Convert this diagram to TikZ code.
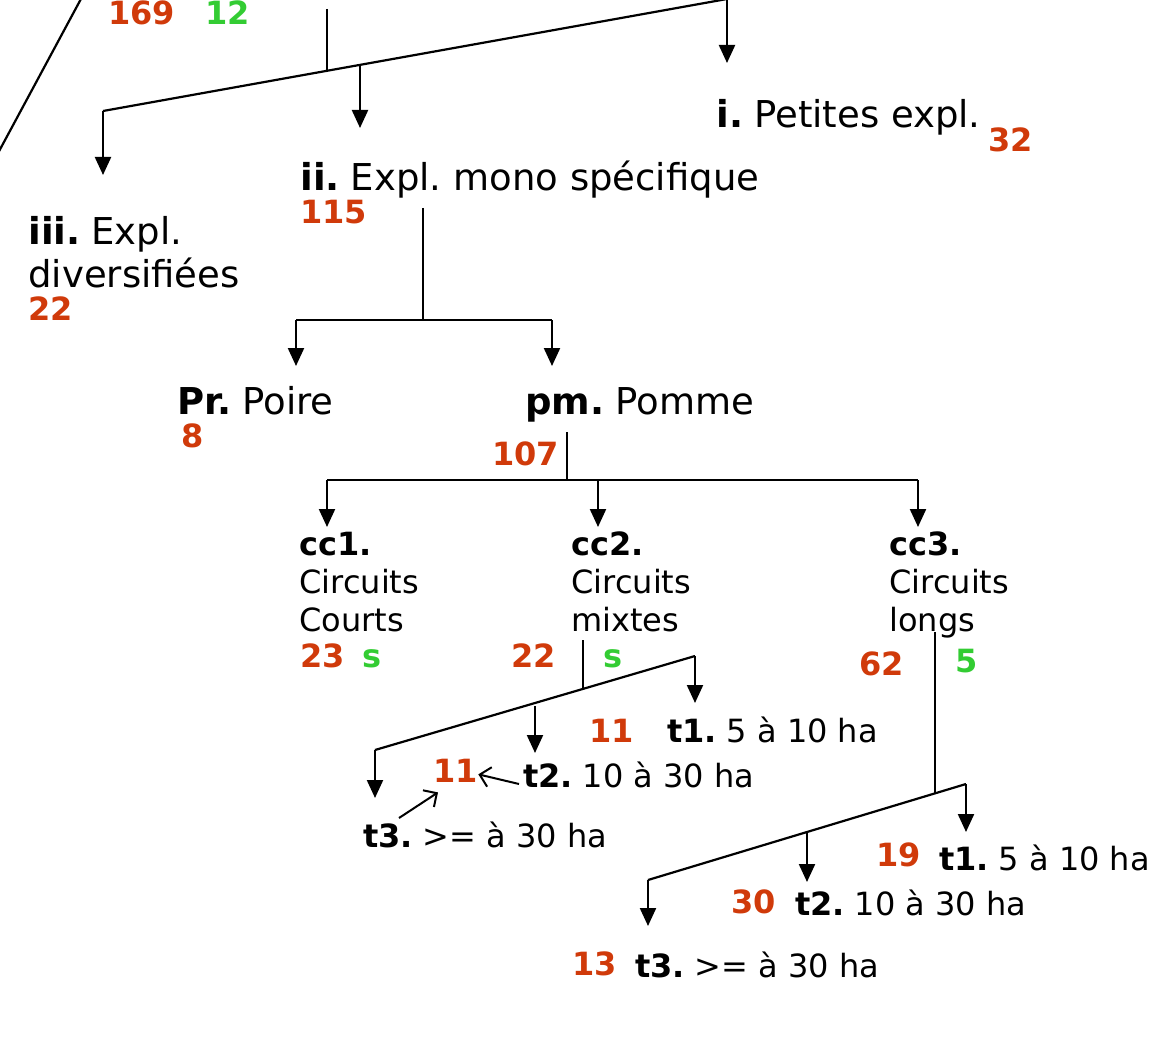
\documentclass[tikz,border=0pt]{standalone}
\usepackage{fontspec}
\setmainfont{DejaVu Sans}
\usetikzlibrary{arrows.meta}
\frenchspacing
\definecolor{countRed}{HTML}{D03A0A}
\definecolor{countGreen}{HTML}{33CC33}
\newcommand{\itemTag}[1]{\textbf{#1}\hspace{0.3em}}

\begin{document}
\begin{tikzpicture}[x=0.5pt, y=-0.5pt]
        \tikzstyle{bigText} = [inner sep=0, anchor=base west, align=left,
                font=\fontsize{18.5}{21.5}\selectfont]
        \tikzstyle{smallText} = [inner sep=0, anchor=base west, align=left,
                font=\fontsize{16}{19}\selectfont]
        \tikzstyle{redCount} = [inner sep=0, anchor=base west, text=countRed,
                font=\fontsize{16}{19}\selectfont\bfseries]
        \tikzstyle{greenCount} = [redCount, text=countGreen]
        \tikzstyle{barEdge} = [draw=black, line width=1.1pt]
        \tikzstyle{stemEdge} = [draw=black, line width=0.8pt]
        \tikzstyle{downEdge} = [draw=black, line width=1.1pt,
                arrows={-Triangle[length=9pt,width=8pt]}]
        \tikzstyle{noteEdge} = [draw=black, line width=1pt,
                arrows={-Straight Barb[length=5pt,width=10pt]}]
        \useasboundingbox (0,0) rectangle (1163,1038);
        \node[redCount] (n169) at (108,25) {169};
        \node[greenCount] (n12) at (205,25) {12};
        \node[bigText] (i) at (716,128) {\itemTag{i.}Petites expl.};
        \node[redCount] (n32) at (988,152) {32};
        \node[bigText] (ii) at (300,191) {\itemTag{ii.}Expl. mono spécifique};
        \node[redCount] (n115) at (300,224) {115};
        \node[bigText] (iii) at (28,287) {\itemTag{iii.}Expl.\\diversifiées};
        \node[redCount] (n22a) at (28,320) {22};
        \node[bigText] (pr) at (177,414) {\itemTag{Pr.}Poire};
        \node[redCount] (n8) at (181,447) {8};
        \node[bigText] (pm) at (525,414) {\itemTag{pm.}Pomme};
        \node[redCount] (n107) at (492,465) {107};
        \node[smallText] (cc1) at (299,631) {\textbf{cc1.}\\Circuits\\Courts};
        \node[redCount] (n23) at (300,667) {23};
        \node[greenCount] (s1) at (362,667) {s};
        \node[smallText] (cc2) at (571,631) {\textbf{cc2.}\\Circuits\\mixtes};
        \node[redCount] (n22b) at (511,667) {22};
        \node[greenCount] (s2) at (603,667) {s};
        \node[smallText] (cc3) at (889,631) {\textbf{cc3.}\\Circuits\\longs};
        \node[redCount] (n62) at (859,675) {62};
        \node[greenCount] (n5) at (955,672) {5};
        \node[redCount] (n11a) at (589,742) {11};
        \node[smallText] (t1a) at (667,742) {\itemTag{t1.}5 à 10 ha};
        \node[redCount] (n11b) at (433,782) {11};
        \node[smallText] (t2a) at (523,787) {\itemTag{t2.}10 à 30 ha};
        \node[smallText] (t3a) at (363,847) {\itemTag{t3.}>= à 30 ha};
        \node[redCount] (n19) at (876,866) {19};
        \node[smallText] (t1b) at (939,870) {\itemTag{t1.}5 à 10 ha};
        \node[redCount] (n30) at (731,913) {30};
        \node[smallText] (t2b) at (795,915) {\itemTag{t2.}10 à 30 ha};
        \node[redCount] (n13) at (572,975) {13};
        \node[smallText] (t3b) at (635,977) {\itemTag{t3.}>= à 30 ha};
        \coordinate (up0) at (-3,155);
        \coordinate (up1) at (82,-3);
        \coordinate (s0) at (327,9);
        \coordinate (j0) at (327,72);
        \coordinate (b0l) at (103,111);
        \coordinate (b0m) at (360,65);
        \coordinate (b0r) at (727,-1);
        \coordinate (a0l) at (103,175);
        \coordinate (a0m) at (360,128);
        \coordinate (a0r) at (727,63);
        \coordinate (s1) at (423,208);
        \coordinate (j1) at (423,320);
        \coordinate (b1l) at (296,320);
        \coordinate (b1r) at (552,320);
        \coordinate (a1l) at (296,366);
        \coordinate (a1r) at (552,366);
        \coordinate (s2) at (567,432);
        \coordinate (j2) at (567,480);
        \coordinate (b2l) at (327,480);
        \coordinate (b2m) at (598,480);
        \coordinate (b2r) at (918,480);
        \coordinate (a2l) at (327,527);
        \coordinate (a2m) at (598,527);
        \coordinate (a2r) at (918,527);
        \coordinate (s3) at (583,640);
        \coordinate (j3) at (583,688);
        \coordinate (b3l) at (375,750);
        \coordinate (b3m) at (535,706);
        \coordinate (b3r) at (695,656);
        \coordinate (a3l) at (375,798);
        \coordinate (a3m) at (535,753);
        \coordinate (a3r) at (695,703);
        \coordinate (s4) at (935,632);
        \coordinate (j4) at (935,793);
        \coordinate (b4l) at (648,880);
        \coordinate (b4m) at (807,832);
        \coordinate (b4r) at (966,784);
        \coordinate (a4l) at (648,926);
        \coordinate (a4m) at (807,882);
        \coordinate (a4r) at (966,832);
        \foreach \from/\to in {up0/up1, b0l/b0r, b1l/b1r, b2l/b2r, b3l/b3r,
                                b4l/b4r}
            \draw[barEdge] (\from) -- (\to);
        \foreach \from/\to in {s0/j0, s1/j1, s2/j2, s3/j3, s4/j4}
            \draw[stemEdge] (\from) -- (\to);
        \foreach \from/\to in {b0l/a0l, b0m/a0m, b0r/a0r, b1l/a1l, b1r/a1r,
        b2l/a2l, b2m/a2m, b2r/a2r, b3l/a3l, b3m/a3m, b3r/a3r, b4l/a4l,
        b4m/a4m, b4r/a4r}
            \draw[downEdge] (\from) -- (\to);
        \draw[noteEdge] ([xshift=-2pt,yshift=1.5pt]t2a.base west)
            -- ([yshift=-2pt]n11b.east);
        \draw[noteEdge] ([xshift=18pt,yshift=1.5pt]t3a.north west)
            -- ([xshift=2.5pt,yshift=-5pt]n11b.south west);
    \end{tikzpicture}
\end{document}
